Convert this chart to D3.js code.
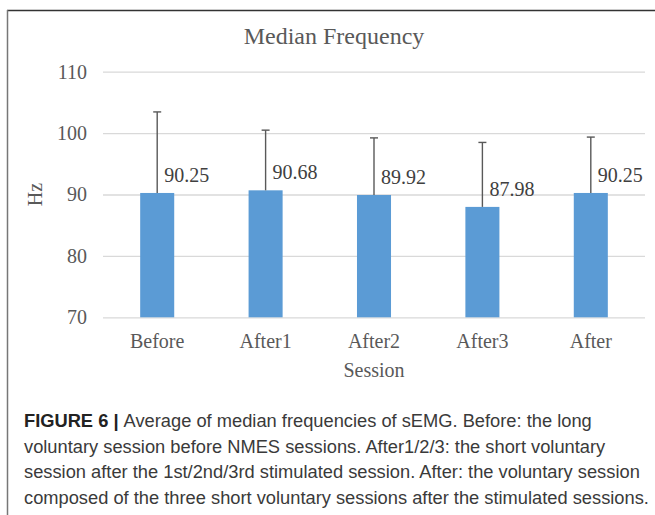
<!DOCTYPE html>
<html>
<head>
<meta charset="utf-8">
<script src="https://cdn.jsdelivr.net/npm/d3@7"></script>
<style>
  body { margin: 0; background: #fff; }
  svg { display: block; }
</style>
</head>
<body>
<svg width="655" height="515"></svg>
<script>
var sessions = ['Before', 'After1', 'After2', 'After3', 'After'];
var means = [90.25, 90.68, 89.92, 87.98, 90.25];
var sds = [13.2, 9.8, 9.3, 10.5, 9.1];
var yTicks = [70, 80, 90, 100, 110];
var captionLines = [
  'Average of median frequencies of sEMG. Before: the long',
  'voluntary session before NMES sessions. After1/2/3: the short voluntary',
  'session after the 1st/2nd/3rd stimulated session. After: the voluntary session',
  'composed of the three short voluntary sessions after the stimulated sessions.'
];

var svg = d3.select('svg');
var plotLeft = 103, plotRight = 645, plotTop = 71.7, plotBottom = 317.3;
var serif = '"Liberation Serif", "Times New Roman", serif';
var textColor = '#595959';

// frame round the figure
svg.append('line').attr('x1', 7).attr('x2', 655).attr('y1', 10.5).attr('y2', 10.5)
  .attr('stroke', '#333').attr('stroke-width', 1.5);
svg.append('line').attr('x1', 7.5).attr('x2', 7.5).attr('y1', 10).attr('y2', 515)
  .attr('stroke', '#777').attr('stroke-width', 1.5);

var xScale = d3.scaleBand()
  .domain(sessions)
  .range([plotLeft, plotRight])
  .paddingInner(0.686)
  .paddingOuter(0.343);

var yScale = d3.scaleLinear()
  .domain([70, 110])
  .range([plotBottom, plotTop]);

//gridlines + tick labels
var yAxis = d3.axisLeft(yScale).tickValues(yTicks)
  .tickSizeInner(-(plotRight - plotLeft)).tickSizeOuter(0).tickPadding(16);
var yAxisGroup = svg.append('g')
  .attr('transform', 'translate(' + plotLeft + ',0)')
  .call(yAxis);
yAxisGroup.select('.domain').remove();
yAxisGroup.selectAll('line').attr('stroke', '#d9d9d9').attr('stroke-width', 1.3);
yAxisGroup.selectAll('text').attr('fill', textColor)
  .style('font-family', serif).style('font-size', '20px');

var xAxis = d3.axisBottom(xScale).tickSize(0).tickPadding(17);
var xAxisGroup = svg.append('g')
  .attr('transform', 'translate(0,' + plotBottom + ')')
  .call(xAxis);
xAxisGroup.select('.domain').remove();
xAxisGroup.selectAll('text').attr('fill', textColor)
  .style('font-family', serif).style('font-size', '20px');

// bars
svg.selectAll('rect.bar').data(sessions).enter().append('rect')
  .attr('class', 'bar')
  .attr('x', function(d) { return xScale(d); })
  .attr('width', xScale.bandwidth())
  .attr('y', function(d, i) { return yScale(means[i]); })
  .attr('height', function(d, i) { return plotBottom - yScale(means[i]); })
  .attr('fill', '#5b9bd5');

// error bars (plus only)
var errs = svg.selectAll('g.err').data(sessions).enter().append('g').attr('class', 'err');
errs.append('line')
  .attr('x1', function(d) { return xScale(d) + xScale.bandwidth() / 2; })
  .attr('x2', function(d) { return xScale(d) + xScale.bandwidth() / 2; })
  .attr('y1', function(d, i) { return yScale(means[i]); })
  .attr('y2', function(d, i) { return yScale(means[i] + sds[i]); })
  .attr('stroke', '#595959').attr('stroke-width', 1.4);
errs.append('line')
  .attr('x1', function(d) { return xScale(d) + xScale.bandwidth() / 2 - 4; })
  .attr('x2', function(d) { return xScale(d) + xScale.bandwidth() / 2 + 4; })
  .attr('y1', function(d, i) { return yScale(means[i] + sds[i]); })
  .attr('y2', function(d, i) { return yScale(means[i] + sds[i]); })
  .attr('stroke', '#595959').attr('stroke-width', 1.4);

// value labels
svg.selectAll('text.val').data(sessions).enter().append('text')
  .attr('class', 'val')
  .attr('x', function(d) { return xScale(d) + xScale.bandwidth() / 2 + 7; })
  .attr('y', function(d, i) { return yScale(means[i]) - 11; })
  .attr('fill', '#404040')
  .style('font-family', serif).style('font-size', '20px')
  .text(function(d, i) { return d3.format('.2f')(means[i]); });

// title & axis titles
svg.append('text').attr('x', 334).attr('y', 44).attr('text-anchor', 'middle')
  .attr('fill', textColor).style('font-family', serif).style('font-size', '24px')
  .text('Median Frequency');
svg.append('text').attr('x', (plotLeft + plotRight) / 2).attr('y', 377).attr('text-anchor', 'middle')
  .attr('fill', textColor).style('font-family', serif).style('font-size', '20px')
  .text('Session');
svg.append('text').attr('transform', 'translate(42,' + (plotTop + plotBottom) / 2 + ') rotate(-90)')
  .attr('text-anchor', 'middle')
  .attr('fill', textColor).style('font-family', serif).style('font-size', '20px')
  .text('Hz');

// caption
var cap = svg.append('g').style('font-family', '"Liberation Sans", Arial, sans-serif')
  .style('font-size', '18.3px').attr('fill', '#3a3a3a');
captionLines.forEach(function(line, i) {
  var t = cap.append('text').attr('x', 24).attr('y', 427 + i * 25.5);
  if (i == 0) {
    t.append('tspan').style('font-weight', 'bold').attr('fill', '#222').text('FIGURE 6 | ');
  }
  t.append('tspan').text(line);
});
</script>
</body>
</html>
